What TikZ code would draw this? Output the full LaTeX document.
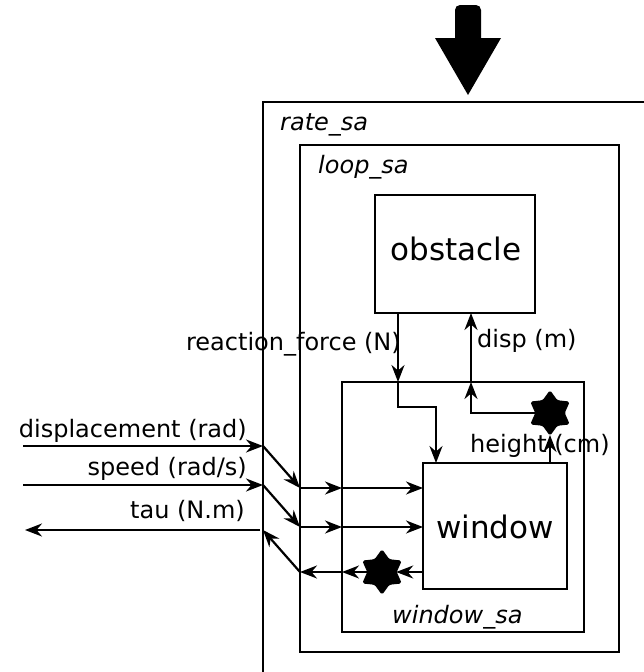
\documentclass[tikz,border=0pt]{standalone}
\usepackage{fontspec}
\setmainfont{DejaVu Sans}
\usetikzlibrary{arrows.meta,shapes.geometric}
\begin{document}
\begin{tikzpicture}[x=1pt,y=-1pt,
  wire/.style={line width=2.2pt,-{Stealth[length=17pt,width=13pt,inset=5.5pt]}},
  frame/.style={draw,line width=2.2pt,anchor=north west,inner sep=0pt,outer sep=0pt},
  blk/.style={frame},
  big/.style={font=\fontsize{31}{36}\selectfont,inner sep=0pt},
  lbl/.style={font=\fontsize{24}{28}\selectfont,inner sep=0pt},
  tag/.style={font=\fontsize{24}{28}\selectfont\itshape,inner sep=0pt},
  junction/.style={star,star points=6,star point ratio=1.55,fill=black,draw=black,
    line width=1pt,minimum size=44pt,inner sep=0pt,outer sep=0pt,rounded corners=1.5pt}]
\useasboundingbox (0,0) rectangle (644,672);
\clip (0,0) rectangle (644,672);

% trigger arrow on top of the rate scheduler
\fill (435,38) -- (455,38) [rounded corners=5pt] -- (455,5) -- (481,5)
  [sharp corners] -- (481,38) -- (501,38) -- (468,95) -- cycle;

% nested containers
\node[frame,minimum width=437pt,minimum height=618pt] (rate) at (263,102) {};
\node[frame,minimum width=319pt,minimum height=507pt] (loop) at (300,145) {};
\node[frame,minimum width=242pt,minimum height=250pt] (wsa) at (342,382) {};
\node[tag,anchor=base west] (rateL) at (280,130) {rate\_sa};
\node[tag,anchor=base west] (loopL) at (318,173) {loop\_sa};
\node[tag,anchor=base west] (wsaL) at (392,623) {window\_sa};

% blocks
\node[blk,minimum width=160pt,minimum height=118pt] (obstacle) at (375,195) {};
\node[big] (obstacleT) at (456,249) {obstacle};
\node[blk,minimum width=144pt,minimum height=126pt] (window) at (423,463) {};
\node[big] (windowT) at (495,527) {window};

% junctions
\node[junction] (jh) at (550,413) {};
\node[junction] (jo) at (382,572) {};

% ports
\coordinate (dIn) at (23,446);
\coordinate (sIn) at (23,485);
\coordinate (tOut) at (25,530);
\coordinate (dR) at (rate.west |- dIn);
\coordinate (sR) at (rate.west |- sIn);
\coordinate (tR) at (263,530);
\coordinate (tR2) at (260,530);
\coordinate (dL) at (300,488);
\coordinate (sL) at (300,527);
\coordinate (oL) at (300,572);
\coordinate (dW) at (342,488);
\coordinate (sW) at (342,527);
\coordinate (oW) at (342,572);
\coordinate (rfTop) at (398,313);
\coordinate (rfW) at (398,382);
\coordinate (rfBend) at (398,407);
\coordinate (rfBend2) at (436,407);
\coordinate (rfIn) at (436,463);
\coordinate (dpBend) at (471,413);
\coordinate (dpW) at (471,382);
\coordinate (dpTop) at (471,313);
\coordinate (hOut) at (550,463);

% inputs
\draw[wire] (dIn) -- (dR);
\draw[wire] (dR) -- (dL);
\draw[wire] (dL) -- (dW);
\draw[wire] (dW) -- (window.west |- dW);
\draw[wire] (sIn) -- (sR);
\draw[wire] (sR) -- (sL);
\draw[wire] (sL) -- (sW);
\draw[wire] (sW) -- (window.west |- sW);

% output torque
\draw[wire] (window.west |- oW) -- (jo);
\draw[wire] (jo) -- (oW);
\draw[wire] (oW) -- (oL);
\draw[wire] (oL) -- (tR);
\draw[wire] (tR2) -- (tOut);

% reaction force
\draw[wire] (rfTop) -- (rfW);
\draw[wire] (rfW) -- (rfBend) -- (rfBend2) -- (rfIn);

% height and displacement
\draw[wire] (hOut) -- (jh);
\draw[wire] (jh) -- (dpBend) -- (dpW);
\draw[wire] (dpW) -- (dpTop);

% signal labels
\node[lbl,anchor=base east] (dLbl) at (247,437) {displacement (rad)};
\node[lbl,anchor=base east] (sLbl) at (247,475) {speed (rad/s)};
\node[lbl,anchor=base east] (tLbl) at (245,518) {tau (N.m)};
\node[lbl,anchor=base east] (rfLbl) at (401,350) {reaction\_force (N)};
\node[lbl,anchor=base west] (dpLbl) at (477,347) {disp (m)};
\node[lbl,anchor=base west] (hLbl) at (470,452) {height (cm)};
\end{tikzpicture}
\end{document}
